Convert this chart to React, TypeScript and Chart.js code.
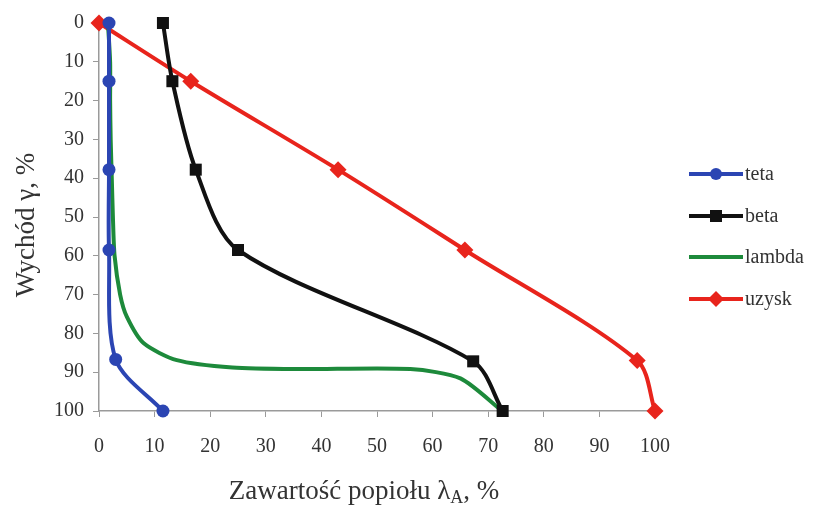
import React, { useEffect, useRef } from "react";
import { Chart, registerables } from "chart.js";

Chart.register(...registerables);

const seriesNames = ["teta", "beta", "lambda", "uzysk"];

const tetaX = [1.8, 1.8, 1.8, 1.8, 3.0, 11.5];
const tetaY = [0, 15, 37.8, 58.5, 86.7, 100];

const betaX = [11.5, 13.2, 17.4, 25.0, 67.3, 72.6];
const betaY = [0, 15, 37.8, 58.5, 87.2, 100];

const lambdaX = [1.6, 2.0, 2.0, 2.1, 2.3, 2.5, 2.8, 3.8, 5.0, 8.0, 14.0, 24.0, 36.0, 56.0, 65.0, 72.5];
const lambdaY = [0, 10, 20, 30, 40, 50, 60, 70, 75.7, 82.5, 86.9, 88.8, 89.2, 89.2, 91.6, 100];

const uzyskX = [0, 16.5, 43.0, 65.8, 96.8, 100];
const uzyskY = [0, 15, 37.8, 58.5, 87.0, 100];

const xTicks = [0, 10, 20, 30, 40, 50, 60, 70, 80, 90, 100];
const yTicks = [0, 10, 20, 30, 40, 50, 60, 70, 80, 90, 100];

const colors = ["#2b45b3", "#111111", "#1d8a3b", "#e8241c"];
const pointStyles: any[] = ["circle", "rect", false, "rectRot"];
const pointRadii = [6.5, 8.5, 0, 8.5];
const tensions = [0.3, 0.3, 0.25, 0.3];

const zip = (xs: number[], ys: number[]) => xs.map((x, i) => ({ x, y: ys[i] }));

const FONT = "'Liberation Serif', 'Times New Roman', serif";

const overlayPlugin = {
  id: "overlay",
  afterDraw(chart: any) {
    const ctx = chart.ctx as CanvasRenderingContext2D;
    ctx.save();
    ctx.fillStyle = "#333333";
    // x title with subscript
    const big = `27px ${FONT}`;
    const small = `18px ${FONT}`;
    ctx.font = big;
    ctx.textBaseline = "alphabetic";
    const p1 = "Zawartość popiołu λ";
    const sub = "A";
    const p2 = ", %";
    const w1 = ctx.measureText(p1).width;
    ctx.font = small;
    const ws = ctx.measureText(sub).width;
    ctx.font = big;
    const w2 = ctx.measureText(p2).width;
    const total = w1 + ws + w2;
    let x = 364 - total / 2;
    const by = 499;
    ctx.textAlign = "left";
    ctx.fillText(p1, x, by);
    x += w1;
    ctx.font = small;
    ctx.fillText(sub, x, by + 4);
    x += ws;
    ctx.font = big;
    ctx.fillText(p2, x, by);

    // y title
    ctx.save();
    ctx.translate(34, 225);
    ctx.rotate(-Math.PI / 2);
    ctx.textAlign = "center";
    ctx.textBaseline = "alphabetic";
    ctx.font = big;
    ctx.fillText("Wychód γ, %", 0, 0);
    ctx.restore();

    // legend
    const ys = [174, 216, 257, 299];
    seriesNames.forEach((name, i) => {
      const y = ys[i];
      ctx.strokeStyle = colors[i];
      ctx.lineWidth = 4;
      ctx.beginPath();
      ctx.moveTo(689, y);
      ctx.lineTo(743, y);
      ctx.stroke();
      ctx.fillStyle = colors[i];
      if (i === 0) {
        ctx.beginPath();
        ctx.arc(716, y, 6, 0, Math.PI * 2);
        ctx.fill();
      } else if (i === 1) {
        ctx.fillRect(710, y - 6, 12, 12);
      } else if (i === 3) {
        ctx.beginPath();
        ctx.moveTo(716, y - 8);
        ctx.lineTo(724, y);
        ctx.lineTo(716, y + 8);
        ctx.lineTo(708, y);
        ctx.closePath();
        ctx.fill();
      }
      ctx.fillStyle = "#333333";
      ctx.font = `20px ${FONT}`;
      ctx.textAlign = "left";
      ctx.textBaseline = "middle";
      ctx.fillText(name, 745, y + 1);
    });
    ctx.restore();
  },
};

export default function App() {
  const ref = useRef<HTMLCanvasElement | null>(null);
  useEffect(() => {
    if (!ref.current) return;
    const datasets = [
      zip(tetaX, tetaY),
      zip(betaX, betaY),
      zip(lambdaX, lambdaY),
      zip(uzyskX, uzyskY),
    ].map((data, i) => ({
      label: seriesNames[i],
      data,
      borderColor: colors[i],
      backgroundColor: colors[i],
      borderWidth: 4,
      pointStyle: pointStyles[i],
      pointRadius: pointRadii[i],
      pointBorderWidth: 0,
      pointHoverRadius: pointRadii[i],
      tension: tensions[i],
      fill: false,
      clip: false as any,
      showLine: true,
    }));
    const chart = new Chart(ref.current, {
      type: "scatter",
      data: { datasets: datasets as any },
      options: {
        animation: false,
        responsive: false,
        maintainAspectRatio: false,
        layout: { padding: { top: 23, right: 159, left: 0, bottom: 0 } },
        plugins: { legend: { display: false }, tooltip: { enabled: false } },
        scales: {
          x: {
            type: "linear",
            min: 0,
            max: 100,
            afterBuildTicks: (s: any) => {
              s.ticks = xTicks.map((v) => ({ value: v }));
            },
            afterFit: (s: any) => {
              s.height = 94;
            },
            ticks: {
              color: "#333333",
              font: { family: FONT, size: 20 },
              padding: 18,
              maxRotation: 0,
            },
            grid: { drawOnChartArea: false, drawTicks: true, tickLength: 6, color: "#9a9a9a" },
            border: { display: true, color: "#9a9a9a", width: 1.5 },
          },
          y: {
            type: "linear",
            reverse: true,
            min: 0,
            max: 100,
            afterBuildTicks: (s: any) => {
              s.ticks = yTicks.map((v) => ({ value: v }));
            },
            afterFit: (s: any) => {
              s.width = 99;
            },
            ticks: {
              color: "#333333",
              font: { family: FONT, size: 20 },
              padding: 9,
            },
            grid: { drawOnChartArea: false, drawTicks: true, tickLength: 6, color: "#9a9a9a" },
            border: { display: true, color: "#9a9a9a", width: 1.5 },
          },
        },
      },
      plugins: [overlayPlugin],
    });
    return () => chart.destroy();
  }, []);
  return (
    <div style={{ position: "fixed", left: 0, top: 0, width: 814, height: 505, background: "#fff" }}>
      <canvas ref={ref} width={814} height={505} style={{ width: 814, height: 505, display: "block" }} />
    </div>
  );
}
